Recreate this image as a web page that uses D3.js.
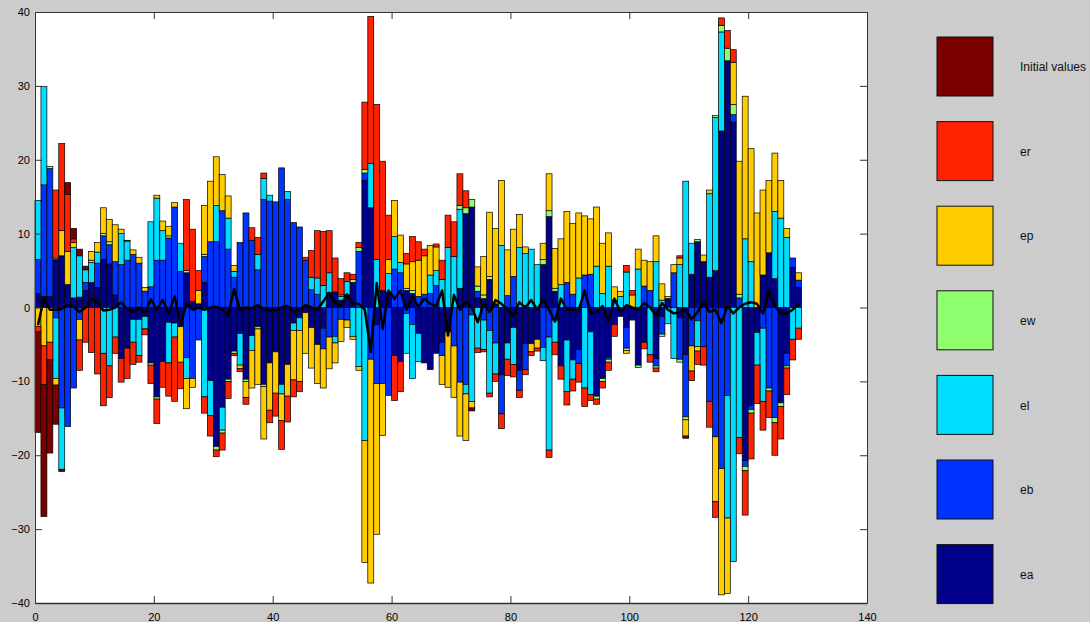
<!DOCTYPE html>
<html>
<head>
<meta charset="utf-8">
<script src="https://cdn.jsdelivr.net/npm/d3@7"></script>
<style>
  html, body { margin: 0; padding: 0; background: #cccccc; }
  svg { display: block; font-family: "Liberation Sans", Arial, sans-serif; }
</style>
</head>
<body>
<script>
// shock contributions per period (signed)
const ea = [1.9,1.5,1.5,6.5,7.0,3.1,1.3,1.4,2.3,3.4,2.7,6.5,5.9,1.7,-6.9,-5.5,-1.6,-1.6,-1.2,-7.5,
  -12.1,-7.3,-2.0,-2.1,-2.6,4.7,0.8,0.5,3.4,-9.9,-18.8,-13.5,-9.7,-5.9,-3.5,-9.7,-3.8,-2.6,-10.4,-7.5,
  -6.0,-10.4,-7.7,-2.1,-1.4,-0.7,-2.7,-5.0,-2.8,2.0,2.1,1.0,1.7,3.4,0,17.2,13.5,-2.3,2.3,2.1,
  -6.5,-7.3,2.3,1.9,-3.5,-7.5,-8.4,-6.2,-4.7,-3.3,0,2.6,12.7,13.6,1.3,1.2,3.8,0.5,-9.1,-4.8,
  -2.7,-8.5,-4.9,-4.9,-4.3,5.8,12.3,2.2,-7.9,-4.4,-7.1,-5.7,0,-3.3,-12.0,-9.6,-6.7,-2.3,-1.2,-2.7,
  -1.7,-7.8,-4.7,0,-6.9,-1.2,1.2,0,-1.4,-6.4,4.5,8.9,6.2,4.1,5.0,23.9,33.4,25.1,0,-20.7,
  -13.3,-3.4,4.4,7.4,3.9,-12.9,-6.2,5.4,2.7];
const eb = [4.6,15.1,17.3,-1.4,-13.6,-16.1,-10.9,-1.6,1.1,0,3.3,3.2,2.6,4.5,5.8,6.4,7.2,6.0,2.2,2.8,
  6.4,6.4,9.4,13.6,4.9,-6.8,-9.6,-4.4,3.5,8.9,8.9,13.1,7.9,4.1,8.8,12.8,9.1,5.1,14.6,14.4,
  14.3,18.9,14.6,11.5,10.9,6.4,2.4,1.8,-2.8,-4.0,-3.9,-1.6,-1.7,0,7.6,1.0,-7.0,-8.0,-10.3,-11.9,
  5.2,4.7,-0.8,-2.3,1.5,1.8,1.9,3.0,-1.8,0,-5.2,-10.1,-10.4,-1.0,0.9,-1.7,-3.1,-4.8,-5.3,1.6,
  4.2,-2.7,-3.5,0,0,-5.4,-4.0,-1.7,0,3.4,1.8,-1.9,4.4,4.5,0,0,-0.3,0,0,-2.8,
  0,0,2.9,2.3,-1.0,-2.4,0,4.7,-5.6,-8.4,-5.2,-1.8,-5.3,-12.7,-17.5,-21.8,-11.9,1.0,1.3,-0.8,
  -0.5,0,-2.8,-10.9,-14.9,0,-1.7,1.3,1.0];
const el = [8.0,13.3,0,-8.2,-8.3,0,6.8,5.6,1.7,2.7,1.5,-6.2,-7.9,-4.0,4.2,2.6,-3.1,-4.9,-1.7,8.8,
  8.4,4.0,-5.5,-1.9,3.8,-2.8,0,0,-12.1,-4.7,4.9,-3.1,4.2,0.8,-4.3,0,-2.0,2.1,2.9,0.8,
  0,-1.3,1.1,-1.0,-1.7,0,1.7,2.2,3.0,2.7,-0.9,0.5,1.8,-3.9,-8.0,-18.0,6.0,6.5,0,2.5,
  4.4,1.4,-5.4,-7.3,-3.8,0,2.5,2.0,3.8,8.1,6.9,10.7,-1.3,-11.7,-5.5,-4.0,-8.5,-4.2,8.4,-2.2,
  -5.0,8.1,7.3,7.9,5.8,-1.8,-15.3,-3.0,3.1,-7.0,-2.6,4.0,-10.9,-8.5,5.6,1.9,5.6,1.0,1.5,4.8,
  0,5.2,0,-6.4,6.2,1.0,-2.2,-6.9,5.8,17.1,4.2,-3.5,0,11.3,20.7,13.4,-16.6,-34.4,-17.6,9.3,
  6.2,-4.4,-9.9,0,9.1,12.1,9.5,-4.3,-2.8];
const ew = [0,0,0.3,0.2,0,0,0,0,0,0.3,0,0.3,0.4,0,0,0,0,0,0,-0.3,
  -0.3,0,0.3,0,0,0.3,0,0,0.3,0,-0.5,-0.4,-0.3,-0.3,0,-0.3,0,-0.3,-0.3,0,
  0,0,0,0,0,0,0,0,0,0,0,0.2,0,0.4,0.5,0.5,0,0,0,0,
  0,0,0.3,0.4,0,0,0,0,0,0,0,0.5,0.8,1.0,0.7,0.5,0.4,0,0,0,
  0,0,0,0,0,0.7,0.8,0.4,0,0,0,0,0,0,-0.4,-0.4,-0.4,0,0,-0.3,
  0,-0.3,0,0,-0.3,-0.3,0,0,-0.4,-0.4,0,0.3,0,0,0.3,0.9,1.7,1.4,0.5,-0.6,
  -0.5,0,0,-0.4,-0.7,-0.5,-0.3,0,0];
const ep = [-2.6,-5.2,-4.7,-0.9,3.4,4.5,0.7,-2.8,0,1.2,1.3,3.5,3.0,5.0,0.6,0.1,0.6,0.8,0.5,0,
  0.4,1.3,1.3,0.6,-4.8,-4.1,-1.2,1.8,6.6,8.2,6.6,4.9,3.0,0.8,-0.5,-2.2,-5.1,-7.5,-7.1,-6.4,
  -5.6,-3.6,-4.3,-6.7,-6.9,-5.5,-5.5,-5.3,-5.3,-4.3,-2.7,-3.0,-1.0,-0.4,-0.5,-16.5,-30.3,-20.4,-7.0,1.9,
  4.9,3.7,3.3,3.9,4.9,5.2,4.0,3.2,-3.9,-7.5,-7.0,-7.3,-6.3,-0.9,2.6,5.2,8.7,10.2,8.8,6.2,
  6.4,4.5,0.9,-1.1,-1.2,2.2,5.0,5.4,6.2,9.6,9.6,8.8,8.0,7.5,8.0,6.8,4.5,1.8,0.7,-0.4,
  1.7,2.7,3.5,3.9,3.5,2.2,0.3,1.1,0.9,-2.2,-3.4,-0.6,0.9,0.5,-8.8,-17.1,-10.2,5.7,18.0,19.3,
  15.3,12.8,11.5,9.8,7.9,5.1,1.2,0,1.0];
const er = [-0.7,-5.2,-2.4,9.2,11.8,7.7,0.5,-4.1,-4.7,-6.1,-9.0,-7.1,-4.3,-2.2,-3.2,-4.1,-3.0,-0.9,-0.8,-2.5,
  -3.3,-3.5,-4.5,-8.7,-3.6,9.6,9.8,2.7,-2.2,-2.8,-0.9,-2.3,-2.3,-0.3,-0.4,-0.9,1.7,2.3,0.7,-1.7,
  -3.1,-3.9,-3.5,-2.3,-1.4,0.4,3.6,6.4,7.3,5.7,4.6,2.2,1.2,0.7,0.7,9.1,19.9,21.0,17.5,6.0,
  -6.1,-4.1,1.4,3.4,2.5,0.9,0,0.4,2.6,4.4,4.7,4.3,2.3,0,-0.6,-0.3,-0.5,-1.0,-2.0,-2.2,
  -1.7,-1.0,-0.7,-0.5,-0.4,0,-1.0,-1.7,-1.8,-1.8,-1.6,-2.5,-2.5,-0.8,-0.7,-0.9,-1.1,-1.6,0,0.9,
  0.6,0,-0.9,-1.0,-0.5,0,0,0,0.3,0,-1.3,-1.8,-2.5,-3.5,-2.1,1.0,2.4,1.7,-2.2,-6.0,
  -6.2,-5.2,-3.9,-3.6,-4.4,-4.4,-3.6,-2.8,-1.5];
const initVals = [-13.6,-17.9,-12.6,-5.3,-0.3,1.6,1.4,0.9,0.5,0,0,0,0,0,0,0,0,0,0,0,
  0,0,0,0,0,0,0,0,0,0,0,0,0,0,0,0,0,0,0,0,
  0,0,0,0,0,0,0,0,0,0,0,0,0,0,0,0,0,0,0,0,
  0,0,0,0,0,0,0,0,0,0,0,0,0,-0.4,0,0,0,0,0,0,
  0,0,0,0,0,0,0,0,0,0,0,0,0,0,0,0,0,0,0,0,
  0,0,0,0,0,0,0,0,0,-0.3,0,0,0,0,0,0,0,0,0,0,
  0,0,0,0,0,0,0,0,0];
// observed series (black line)
const observed = [-2.4,1.3,-0.3,-0.3,-0.2,0.3,0.1,-0.6,0,1.2,0.7,-0.4,-0.3,0,0.7,-0.2,-0.6,0,-0.8,1.1,
  -0.3,1.0,-0.8,1.5,-2.4,0.5,-0.3,0,-0.3,0,0.1,-0.3,-1.1,2.5,-0.3,0,-0.1,0.3,-0.2,-0.4,
  -0.4,0,0.2,-0.6,-0.3,0.3,0,-0.3,0.8,2.0,0.7,0.2,1.8,0.5,0.5,-0.3,-6.0,3.3,-2.9,2.3,
  1.2,2.3,-0.3,1.5,0.1,1.2,0.5,0.2,2.3,-3.8,1.7,-0.3,0.7,0,-2.0,0.5,-0.6,1.0,0.5,-0.3,
  -1.1,0.7,0,1.0,-0.3,1.0,-0.3,-1.9,1.2,-0.3,-0.3,-0.3,2.3,-0.8,-0.6,0.2,-1.9,1.2,-0.6,0.3,
  0,-0.3,0.6,0,-1.1,0.6,-0.3,-0.8,-0.6,-0.3,-1.6,-0.6,0.7,-0.6,-0.3,-2.1,0.2,-0.8,0,0.5,
  0.7,0.5,-0.8,2.3,0.2,-0.8,-0.8,-0.3,0.5];

// stacking order from the zero line outwards
const keys = ["ea", "eb", "el", "ew", "ep", "er", "init"];
const series = {ea, eb, el, ew, ep, er, init: initVals};
const labels = {init: "Initial values", er: "er", ep: "ep", ew: "ew", el: "el", eb: "eb", ea: "ea"};
const colors = {
  init: "#7a0000", er: "#ff2200", ep: "#ffcc00", ew: "#8fff6f",
  el: "#00ddff", eb: "#0033ff", ea: "#000088"
};
const legendOrder = ["init", "er", "ep", "ew", "el", "eb", "ea"];

const width = 1090, height = 622;
const margin = {top: 12, right: 223, bottom: 19, left: 35};

const rows = ea.map((_, i) => {
  const r = {t: i};
  keys.forEach(k => r[k] = series[k][i]);
  return r;
});

const stacked = d3.stack()
  .keys(keys)
  .offset(d3.stackOffsetDiverging)(rows);

const x = d3.scaleLinear().domain([0, 140]).range([margin.left, width - margin.right]);
const y = d3.scaleLinear().domain([-40, 40]).range([height - margin.bottom, margin.top]);

const svg = d3.select("body").append("svg")
  .attr("width", width)
  .attr("height", height);

// plot background
svg.append("rect")
  .attr("x", x(0)).attr("y", y(40))
  .attr("width", x(140) - x(0)).attr("height", y(-40) - y(40))
  .attr("fill", "#fff");

// stacked bars
const bw = x(1) - x(0);
svg.append("g")
  .selectAll("g")
  .data(stacked)
  .join("g")
  .attr("fill", d => colors[d.key])
  .selectAll("rect")
  .data(d => d.filter(s => s[1] !== s[0]))
  .join("rect")
  .attr("x", d => x(d.data.t))
  .attr("width", bw)
  .attr("y", d => y(Math.max(d[0], d[1])))
  .attr("height", d => Math.abs(y(d[0]) - y(d[1])))
  .attr("stroke", "#000")
  .attr("stroke-width", 0.7);

// observed line
svg.append("path")
  .datum(observed)
  .attr("fill", "none")
  .attr("stroke", "#000")
  .attr("stroke-width", 2.5)
  .attr("stroke-linejoin", "round")
  .attr("d", d3.line().x((d, i) => x(i + 0.5)).y(d => y(d)));

// axes, matlab style: ticks inside, mirrored on top and right
const tickLen = 7;
svg.append("g")
  .attr("transform", `translate(0,${y(-40)})`)
  .call(d3.axisBottom(x).tickValues(d3.range(0, 141, 20)).tickSizeInner(-tickLen).tickSizeOuter(0).tickPadding(10))
  .call(g => g.select(".domain").attr("stroke", "#333").attr("stroke-width", 1.5));
svg.append("g")
  .attr("transform", `translate(${x(0)},0)`)
  .call(d3.axisLeft(y).tickValues(d3.range(-40, 41, 10)).tickSizeInner(-tickLen).tickSizeOuter(0).tickPadding(5))
  .call(g => g.select(".domain").attr("stroke", "#333"));
svg.append("g")
  .attr("transform", `translate(0,${y(40)})`)
  .call(d3.axisTop(x).tickValues(d3.range(0, 141, 20)).tickSizeInner(-tickLen).tickSizeOuter(0).tickFormat(""))
  .call(g => g.select(".domain").attr("stroke", "#333"));
svg.append("g")
  .attr("transform", `translate(${x(140)},0)`)
  .call(d3.axisRight(y).tickValues(d3.range(-40, 41, 10)).tickSizeInner(-tickLen).tickSizeOuter(0).tickFormat(""))
  .call(g => g.select(".domain").attr("stroke", "#333"));
svg.selectAll(".tick text").attr("font-size", 11).attr("fill", "#000")
  .attr("font-family", "Liberation Sans, Arial, sans-serif");
svg.selectAll(".tick line").attr("stroke", "#333");

// legend
const legend = svg.append("g")
  .selectAll("g")
  .data(legendOrder)
  .join("g")
  .attr("transform", (d, i) => `translate(937,${37 + i * 84.6})`);
legend.append("rect")
  .attr("width", 56).attr("height", 59)
  .attr("fill", d => colors[d])
  .attr("stroke", "#111").attr("stroke-width", 1);
legend.append("text")
  .attr("x", 83).attr("y", 30).attr("dy", "0.35em")
  .attr("font-size", 12).attr("fill", "#111")
  .text(d => labels[d]);
</script>
</body>
</html>
